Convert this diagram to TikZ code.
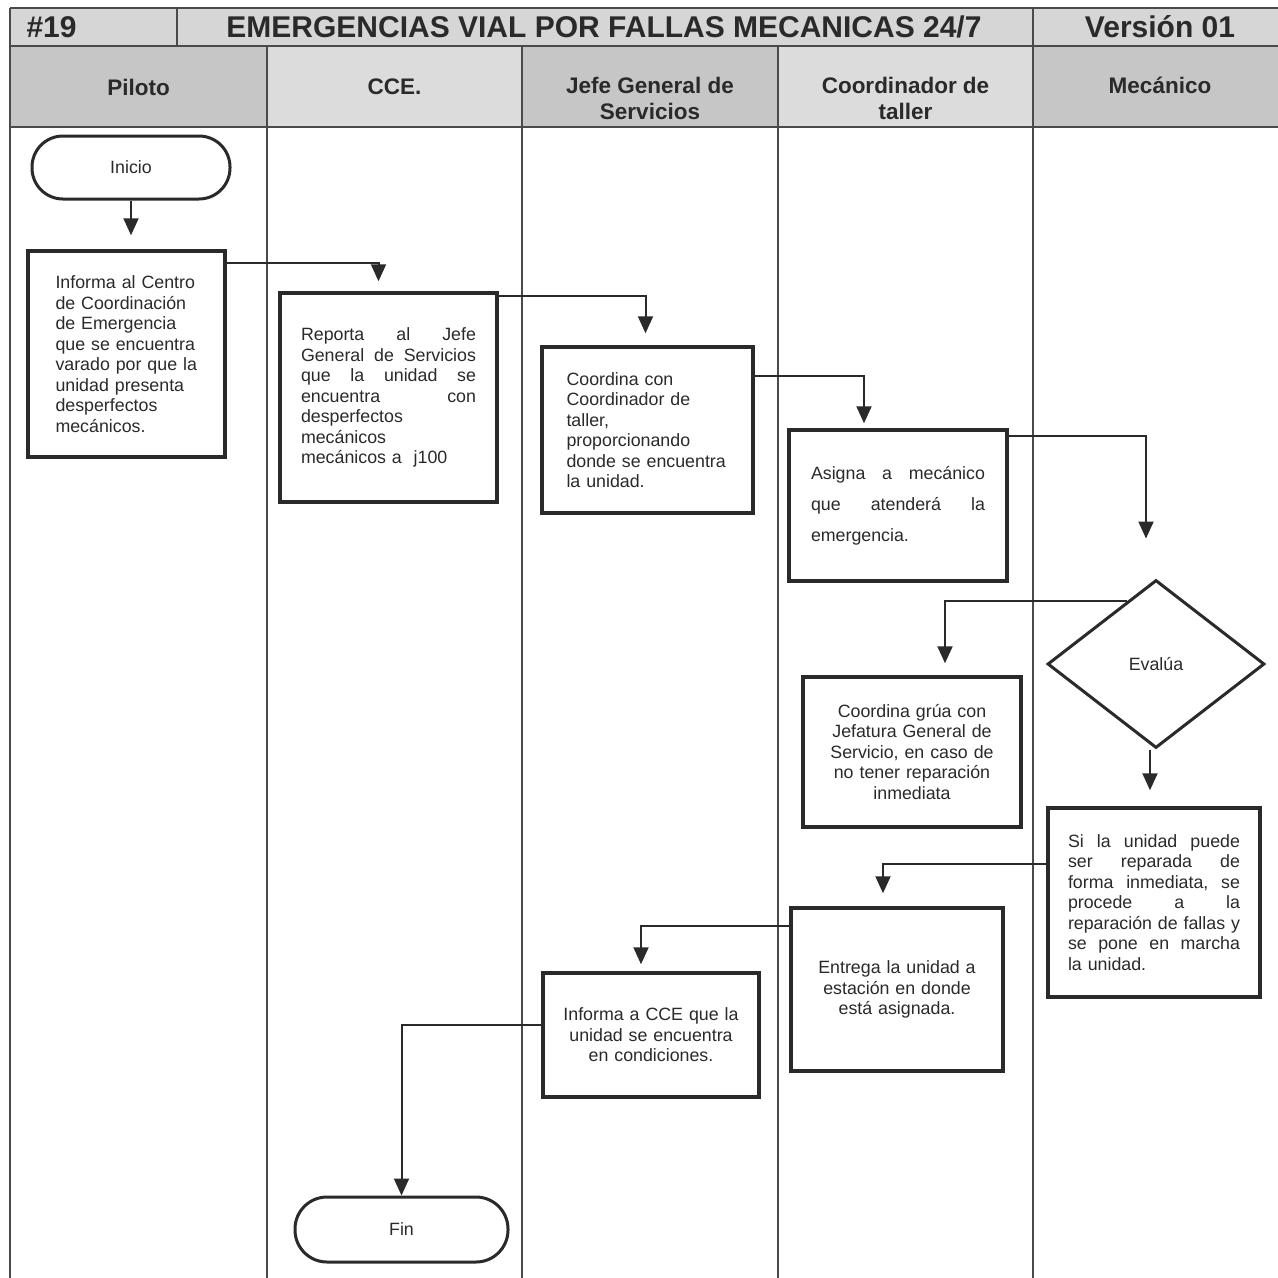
\documentclass[tikz,border=0pt]{standalone}
\usepackage{fontspec}
\setmainfont{Liberation Sans}
\usetikzlibrary{arrows.meta,shapes.geometric}
\definecolor{ink}{HTML}{2A2A2A}
\definecolor{rule}{HTML}{4A4A4A}
\definecolor{titlegray}{HTML}{D6D6D6}
\definecolor{headdark}{HTML}{C6C6C6}
\definecolor{headlight}{HTML}{DCDCDC}
% a fully justified line of given width: words separated by \hfill
\newcommand{\jline}[2]{\leavevmode\hbox to #1{#2}}
\begin{document}
\begin{tikzpicture}[x=1pt,y=-1pt,
  body/.style={font=\fontsize{17.8}{20.5}\selectfont, text=ink},
  procbox/.style={draw=ink, line width=3.5pt, fill=white, body, inner sep=0pt},
  termbox/.style={draw=ink, line width=3pt, fill=white, body, inner sep=0pt},
  decision/.style={diamond, draw=ink, line width=3pt, fill=white, body, inner sep=0pt},
  conn/.style={draw=ink, line width=2pt, -{Triangle[width=15pt,length=17pt]}},
  gridline/.style={draw=rule, line width=1.6pt},
  headtxt/.style={font=\bfseries\fontsize{22.5}{26}\selectfont, text=ink, align=center},
  titletxt/.style={font=\bfseries\fontsize{30}{34}\selectfont, text=ink},
]
\useasboundingbox (0,0) rectangle (1278,1278);
\fill[white] (0,0) rectangle (1278,1278);

% ---- header bands ----
\fill[titlegray] (10,8) rectangle (1278,46);
\fill[headdark]  (10,46)   rectangle (267,127);
\fill[headlight] (267,46)  rectangle (522,127);
\fill[headdark]  (522,46)  rectangle (778,127);
\fill[headlight] (778,46)  rectangle (1033,127);
\fill[headdark]  (1033,46) rectangle (1278,127);

% ---- grid ----
\draw[gridline] (10,8) -- (1278,8);
\draw[gridline] (10,46) -- (1278,46);
\draw[gridline, line width=2.4pt] (10,127) -- (1278,127);
\draw[gridline] (10,8) -- (10,1278);
\draw[gridline] (177,8) -- (177,46);
\draw[gridline] (1033,8) -- (1033,1278);
\draw[gridline] (267,46) -- (267,1278);
\draw[gridline] (522,46) -- (522,1278);
\draw[gridline] (778,46) -- (778,1278);

% ---- titles ----
\node[titletxt, anchor=west] (num) at (23,27) {\#19};
\node[titletxt] (title) at (604,27) {EMERGENCIAS VIAL POR FALLAS MECANICAS 24/7};
\node[titletxt] (ver) at (1160,27) {Versión 01};

\node[headtxt] (h1) at (138.5,87) {Piloto};
\node[headtxt] (h2) at (394.5,87) {CCE.};
\node[headtxt] (h3) at (650,98) {Jefe General de\\Servicios};
\node[headtxt] (h4) at (905.5,98) {Coordinador de\\taller};
\node[headtxt] (h5) at (1160,85) {Mecánico};

% ---- flow nodes ----
\node[termbox, rounded corners=31pt, minimum width=198pt, minimum height=63pt] (ini) at (131,167.5) {Inicio};

\node[procbox, minimum width=197pt, minimum height=206pt, text width=142pt, align=left] (b1) at (126.5,354)
  {Informa al Centro\\de Coordinación\\de Emergencia\\que se encuentra\\varado por que la\\unidad presenta\\desperfectos\\mecánicos.};

\node[procbox, minimum width=217pt, minimum height=209pt, text width=175pt, align=left] (b2) at (388.5,397.5)
  {\jline{175pt}{Reporta\hfill al\hfill Jefe}\\
   \jline{175pt}{General\hfill de\hfill Servicios}\\
   \jline{175pt}{que\hfill la\hfill unidad\hfill se}\\
   \jline{175pt}{encuentra\hfill con}\\
   desperfectos\\mecánicos\\mecánicos a~ j100};

\node[procbox, minimum width=211pt, minimum height=166pt, text width=162pt, align=left] (b3) at (647.5,430)
  {Coordina con\\Coordinador de\\taller,\\proporcionando\\donde se encuentra\\la unidad.};

\node[procbox, minimum width=218pt, minimum height=151pt, text width=174pt, align=left,
      font=\fontsize{17.8}{31}\selectfont] (b4) at (898,505.5)
  {\jline{174pt}{Asigna\hfill a\hfill mecánico}\\
   \jline{174pt}{que\hfill atenderá\hfill la}\\
   emergencia.};

\node[decision, minimum width=217pt, minimum height=168pt, aspect=1.29] (dia) at (1156,664) {Evalúa};

\node[procbox, minimum width=218pt, minimum height=150pt, text width=190pt, align=center] (b5) at (912,752)
  {Coordina grúa con\\Jefatura General de\\Servicio, en caso de\\no tener reparación\\inmediata};

\node[procbox, minimum width=212pt, minimum height=189pt, text width=172pt, align=left] (b6) at (1154,902.5)
  {\jline{172pt}{Si\hfill la\hfill unidad\hfill puede}\\
   \jline{172pt}{ser\hfill reparada\hfill de}\\
   \jline{172pt}{forma\hfill inmediata,\hfill se}\\
   \jline{172pt}{procede\hfill a\hfill la}\\
   \jline{172pt}{reparación\hfill de\hfill fallas\hfill y}\\
   \jline{172pt}{se\hfill pone\hfill en\hfill marcha}\\
   la unidad.};

\node[procbox, minimum width=212pt, minimum height=163pt, text width=190pt, align=center] (b7) at (897,989.5)
  {Entrega la unidad a\\estación en donde\\está asignada.};

\node[procbox, minimum width=216pt, minimum height=124pt, text width=190pt, align=center] (b8) at (651,1035)
  {Informa a CCE que la\\unidad se encuentra\\en condiciones.};

\node[termbox, rounded corners=32pt, minimum width=213pt, minimum height=65pt] (fin) at (401.5,1229.5) {Fin};

% ---- connectors ----
\draw[conn, shorten >=14pt] (ini.south) -- (ini.south |- b1.north);
\draw[conn, shorten >=10pt] ([yshift=-14pt]b1.north east) -| ([xshift=-10pt]b2.north);
\draw[conn, shorten >=12pt] ([yshift=-5pt]b2.north east) -| ([xshift=-2pt]b3.north);
\draw[conn, shorten >=5pt]  ([yshift=-31pt]b3.north east) -| ([xshift=-34pt]b4.north);
\draw[conn, shorten >=40pt] ([yshift=-8pt]b4.north east) -| ([xshift=-10pt]dia.north);
\draw[conn, shorten >=12pt] (dia.115) -| ([xshift=33pt]b5.north);
\draw[conn, shorten >=16pt] ([xshift=-6pt]dia.south) -- ([xshift=-6pt]dia.south |- b6.north);
\draw[conn, shorten >=13pt] ([yshift=-58pt]b6.north west) -| ([xshift=-14pt]b7.north);
\draw[conn, shorten >=7pt]  ([yshift=-20pt]b7.north west) -| ([xshift=-10pt]b8.north);
\draw[conn] ([yshift=-54pt]b8.north west) -| (fin.north);
\end{tikzpicture}
\end{document}
